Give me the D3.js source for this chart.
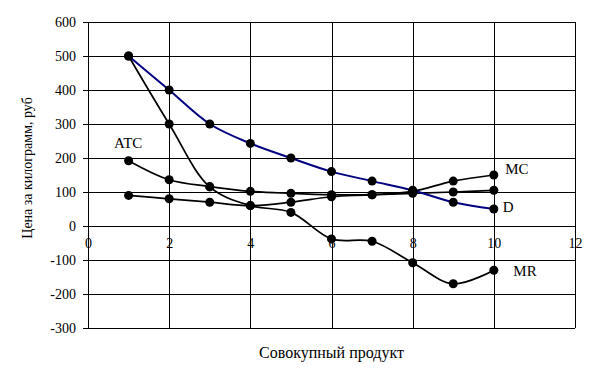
<!DOCTYPE html>
<html>
<head>
<meta charset="utf-8">
<script src="https://cdn.jsdelivr.net/npm/d3@7"></script>
<style>
  body { margin: 0; background: #fff; }
  svg text { font-family: "Liberation Serif", "Times New Roman", serif; }
</style>
</head>
<body>
<div id="chart"></div>
<script>
// quantities
const qty = [1, 2, 3, 4, 5, 6, 7, 8, 9, 10];
// series
const demand = [500, 400, 300, 243, 200, 160, 132, 105, 70, 50];
const mrVals = [500, 300, 115, 60, 40, -38, -45, -108, -170, -130];
const atcVals = [192, 136, 116, 102, 96, 92, 92, 96, 100, 105];
const mcVals = [90, 80, 70, 60, 70, 86, 92, 102, 132, 150];

const xTicks = [0, 2, 4, 6, 8, 10, 12];
const yTicks = [-300, -200, -100, 0, 100, 200, 300, 400, 500, 600];

const width = 601, height = 386;
const margin = { top: 22, right: 26, bottom: 58, left: 88 };

const svg = d3.select("#chart").append("svg")
    .attr("width", width)
    .attr("height", height);

const x = d3.scaleLinear().domain([0, 12]).range([margin.left, width - margin.right]);
const y = d3.scaleLinear().domain([-300, 600]).range([height - margin.bottom, margin.top]);

// grid
svg.append("g")
    .selectAll("line")
    .data(yTicks)
    .enter().append("line")
    .attr("x1", x(0)).attr("x2", x(12))
    .attr("y1", d => Math.round(y(d)) + 0.5).attr("y2", d => Math.round(y(d)) + 0.5)
    .attr("stroke", "#000").attr("stroke-width", 1);

svg.append("g")
    .selectAll("line")
    .data(xTicks)
    .enter().append("line")
    .attr("x1", d => Math.round(x(d)) + 0.5).attr("x2", d => Math.round(x(d)) + 0.5)
    .attr("y1", y(600)).attr("y2", y(-300))
    .attr("stroke", "#000").attr("stroke-width", 1);

// y axis ticks + labels
const yAxis = svg.append("g");
yAxis.selectAll("line")
    .data(yTicks)
    .enter().append("line")
    .attr("x1", x(0) - 5).attr("x2", x(0))
    .attr("y1", d => Math.round(y(d)) + 0.5).attr("y2", d => Math.round(y(d)) + 0.5)
    .attr("stroke", "#000");
yAxis.selectAll("text")
    .data(yTicks)
    .enter().append("text")
    .attr("x", x(0) - 12)
    .attr("y", d => y(d) + 5)
    .attr("text-anchor", "end")
    .style("font-size", "14px")
    .text(d => d);

// x tick labels sit under the zero line
svg.append("g")
    .selectAll("text")
    .data(xTicks)
    .enter().append("text")
    .attr("x", d => x(d) + 0.5)
    .attr("y", y(0) + 22)
    .attr("text-anchor", "middle")
    .style("font-size", "14px")
    .text(d => d);

// series
const line = d3.line()
    .x((d, i) => x(qty[i]))
    .y(d => y(d))
    .curve(d3.curveCatmullRom.alpha(0.5));

const series = [
    { vals: mcVals, color: "#000" },
    { vals: atcVals, color: "#000" },
    { vals: mrVals, color: "#000" },
    { vals: demand, color: "#000080" }
];

series.forEach(function (s) {
    svg.append("path")
        .datum(s.vals)
        .attr("fill", "none")
        .attr("stroke", s.color)
        .attr("stroke-width", s.color === "#000" ? 1.7 : 2)
        .attr("d", line);
});
series.forEach(function (s) {
    svg.append("g")
        .selectAll("circle")
        .data(s.vals)
        .enter().append("circle")
        .attr("cx", (d, i) => x(qty[i]))
        .attr("cy", d => y(d))
        .attr("r", 4.5)
        .attr("fill", "#000");
});

// series labels
const labels = [
    { t: "ATC", qx: 0.64, v: 230 },
    { t: "MC", qx: 10.28, v: 154 },
    { t: "D", qx: 10.22, v: 40 },
    { t: "MR", qx: 10.48, v: -146 }
];
svg.append("g")
    .selectAll("text")
    .data(labels)
    .enter().append("text")
    .attr("x", d => x(d.qx))
    .attr("y", d => y(d.v))
    .style("font-size", "15px")
    .text(d => d.t);

// axis titles
svg.append("text")
    .attr("x", x(6))
    .attr("y", 358)
    .attr("text-anchor", "middle")
    .style("font-size", "16px")
    .text("Совокупный продукт");

svg.append("text")
    .attr("transform", "translate(32," + 168 + ") rotate(-90)")
    .attr("text-anchor", "middle")
    .style("font-size", "14px")
    .text("Цена за килограмм,  руб");
</script>
</body>
</html>
